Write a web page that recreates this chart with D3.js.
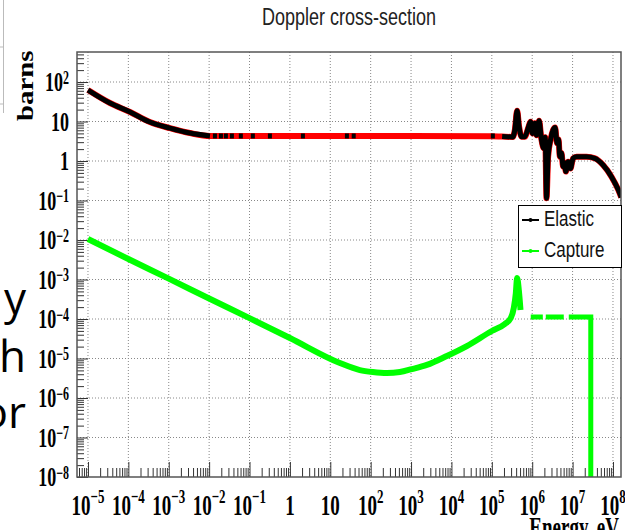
<!DOCTYPE html>
<html>
<head>
<meta charset="utf-8">
<script src="https://cdn.jsdelivr.net/npm/d3@7"></script>
<style>
body{margin:0;background:#fff;}
</style>
</head>
<body>
<svg id="here"></svg>
<script>
// elastic cross-section (barns)
const elasticE = [1e-5, 3.5e-5, 1.1e-4, 3.4e-4, 1.07e-3, 3.35e-3, 1.05e-2, 3e-2, 1, 1e3, 1e5, 1.8e5,
  3.31e5, 3.71e5, 4.23e5, 4.74e5, 5.43e5, 6.56e5, 7.92e5, 9.08e5, 1.02e6, 1.16e6, 1.28e6, 1.48e6,
  1.7e6, 1.94e6, 2.1e6, 2.26e6, 2.48e6, 2.84e6, 3.29e6, 3.69e6, 4.13e6, 4.5e6, 4.82e6, 5.3e6,
  5.82e6, 6.3e6, 6.79e6, 7.74e6, 8.87e6, 1.03e7, 1.25e7, 2.21e7, 3.55e7, 5.69e7, 9.18e7, 1.47e8, 1.6e8];
const elasticS = [62.7, 29.4, 17.4, 9.7, 6.8, 5.1, 4.3, 4.3, 4.3, 4.3, 4.25, 4.15,
  4.06, 6.1, 18.8, 7.4, 4.1, 4.1, 6.8, 9.9, 5.0, 9.0, 4.5, 10.5,
  3.4, 2.1, 4.0, 0.114, 1.29, 3.4, 6.1, 7.1, 2.8, 3.5, 1.29, 1.6,
  0.72, 0.9, 0.54, 0.96, 0.65, 1.17, 1.29, 1.29, 1.17, 0.79, 0.40, 0.152, 0.12];
// markers of the black graph visible on the flat part
const elasticMarkE = [1.39e-2, 1.96e-2, 2.6e-2, 3.66e-2, 6.1e-2, 0.121, 0.32, 2.1, 25.8, 38, 1.06e5];
const elasticMarkS = 4.3;

// capture cross-section
const captureE = [1e-5, 1e-4, 1e-3, 1e-2, 1e-1, 1, 17.3, 54, 113, 252, 528, 1047, 2460, 7690,
  2.4e4, 1e5, 2.1e5, 2.95e5, 3.5e5, 3.93e5, 4.23e5, 4.74e5, 5.13e5];
const captureS = [1.06e-2, 3.3e-3, 1.05e-3, 3.3e-4, 1.05e-4, 3.3e-5, 7.7e-6, 5.1e-6, 4.55e-6, 4.3e-6,
  4.55e-6, 5.4e-6, 6.9e-6, 1.16e-5, 2.07e-5, 4.97e-5, 7.46e-5, 1.06e-4, 1.9e-4, 4.5e-4, 1.09e-3, 4.5e-4, 1.69e-4];
// high energy capture part (null = gap in the line)
const captureHiE = [9.2e5, 1.83e6, null, 2.17e6, 6.05e6, null, 8.05e6, 2.82e7, 2.82e7];
const captureHiS = [1.12e-4, 1.12e-4, null, 1.12e-4, 1.12e-4, null, 1.12e-4, 1.12e-4, 1e-10];

const xTickExp = [-5, -4, -3, -2, -1, 0, 1, 2, 3, 4, 5, 6, 7, 8];
const yTickExp = [-8, -7, -6, -5, -4, -3, -2, -1, 0, 1, 2];
const legendNames = ["Elastic", "Capture"];
const legendColors = ["#000", "#00ff00"];

const width = 625, height = 530;
const margin = {top: 52, right: 4, bottom: 53, left: 77};

const svg = d3.select("#here")
  .attr("width", width)
  .attr("height", height);

const x = d3.scaleLog()
  .domain([5.35e-6, 1.58e8])
  .range([margin.left, width - margin.right]);
const y = d3.scaleLog()
  .domain([1e-8, 575])
  .range([height - margin.bottom, margin.top]);

// leftovers of the window behind the chart
svg.append("path")
  .attr("d", "M3.5,0V113M0,47H3.5M0,104H3.5")
  .attr("stroke", "#bbb").attr("fill", "none");
const bigWords = [["y", 314], ["h", 372], ["or", 428]];
svg.selectAll(".bg")
  .data(bigWords)
  .enter()
  .append("text")
  .attr("x", 26)
  .attr("y", d => d[1])
  .attr("text-anchor", "end")
  .style("font", "44px 'Open Sans'")
  .text(d => d[0]);

svg.append("clipPath").attr("id", "clip")
  .append("rect")
  .attr("x", margin.left).attr("y", margin.top)
  .attr("width", width - margin.left - margin.right)
  .attr("height", height - margin.top - margin.bottom);

// grid
const grid = svg.append("g")
  .attr("stroke", "#888")
  .attr("stroke-dasharray", "1,2")
  .attr("stroke-width", 1);
xTickExp.forEach(e => {
  grid.append("line")
    .attr("x1", x(Math.pow(10, e))).attr("x2", x(Math.pow(10, e)))
    .attr("y1", margin.top).attr("y2", height - margin.bottom);
});
yTickExp.slice(1).forEach(e => {
  grid.append("line")
    .attr("y1", y(Math.pow(10, e))).attr("y2", y(Math.pow(10, e)))
    .attr("x1", margin.left).attr("x2", width - margin.right);
});

// ticks
const ticks = svg.append("g").attr("stroke", "#333").attr("stroke-width", 1);
const [xmin, xmax] = x.domain();
const [ymin, ymax] = y.domain();
for (let e = -6; e <= 8; e++) {
  for (let m = 1; m < 10; m++) {
    const v = m * Math.pow(10, e);
    if (v < xmin || v > xmax) continue;
    const len = m === 1 ? 15 : 9;
    ticks.append("line")
      .attr("x1", x(v) + 0.5).attr("x2", x(v) + 0.5)
      .attr("y1", height - margin.bottom).attr("y2", height - margin.bottom - len);
  }
}
for (let e = -8; e <= 2; e++) {
  for (let m = 1; m < 10; m++) {
    const v = m * Math.pow(10, e);
    if (v < ymin || v > ymax) continue;
    const len = m === 1 ? 11 : 7;
    ticks.append("line")
      .attr("y1", y(v) + 0.5).attr("y2", y(v) + 0.5)
      .attr("x1", margin.left).attr("x2", margin.left + len);
  }
}

// tick labels
const expText = e => (e < 0 ? "\u2212" + (-e) : "" + e);
xTickExp.forEach(e => {
  const t = svg.append("text")
    .attr("transform", `translate(${x(Math.pow(10, e))},515) scale(1,1.5)`)
    .attr("text-anchor", "middle")
    .style("font", "bold 19px 'Liberation Serif'");
  if (e === 0) t.text("1");
  else if (e === 1) t.text("10");
  else {
    t.append("tspan").text("10");
    t.append("tspan").attr("dy", -8).style("font-size", "13px").text(expText(e));
  }
});
yTickExp.forEach(e => {
  const t = svg.append("text")
    .attr("transform", `translate(69,${y(Math.pow(10, e)) + 9}) scale(1,1.5)`)
    .attr("text-anchor", "end")
    .style("font", "bold 18px 'Liberation Serif'");
  if (e === 0) t.text("1");
  else if (e === 1) t.text("10");
  else {
    t.append("tspan").text("10");
    t.append("tspan").attr("dy", -5).style("font-size", "12px").text(expText(e));
  }
});

// titles
svg.append("text")
  .attr("transform", "translate(349,25) scale(1,1.37)")
  .attr("text-anchor", "middle")
  .attr("fill", "#222")
  .style("font", "18px 'Liberation Sans'")
  .text("Doppler cross-section");
svg.append("text")
  .attr("transform", "translate(33,121) rotate(-90) scale(1.2,1)")
  .style("font", "bold 24px 'Liberation Serif'")
  .text("barns");
svg.append("text")
  .attr("transform", "translate(619,537) scale(1,1.5)")
  .attr("text-anchor", "end")
  .style("font", "bold 19px 'Liberation Serif'")
  .text("Energy, eV");

// curves
const plot = svg.append("g").attr("clip-path", "url(#clip)");
const elastic = elasticE.map((e, i) => [e, elasticS[i]]);
const capture = captureE.map((e, i) => [e, captureS[i]]);
const captureHi = captureHiE.map((e, i) => [e, captureHiS[i]]);

const line = d3.line()
  .defined(d => d[0] != null)
  .x(d => x(d[0]))
  .y(d => y(d[1]));
const smooth = d3.line()
  .x(d => x(d[0]))
  .y(d => y(d[1]))
  .curve(d3.curveMonotoneX);

plot.append("path")
  .attr("fill", "none").attr("stroke", "#ff0000").attr("stroke-width", 6)
  .attr("d", smooth(elastic));
plot.append("path")
  .attr("fill", "none").attr("stroke", "#000").attr("stroke-width", 5)
  .attr("stroke-linejoin", "round")
  .attr("d", smooth.defined(d => d[0] <= 1.05e-2 || d[0] >= 1.8e5)(elastic));
plot.selectAll(".mk")
  .data(elasticMarkE)
  .enter()
  .append("rect")
  .attr("x", d => x(d) - 2).attr("y", y(elasticMarkS) - 2.5)
  .attr("width", 4).attr("height", 5)
  .attr("fill", "#000");

smooth.defined(() => true);
plot.append("path")
  .attr("fill", "none").attr("stroke", "#00ff00").attr("stroke-width", 6)
  .attr("d", smooth(capture));
plot.append("path")
  .attr("fill", "none").attr("stroke", "#00ff00").attr("stroke-width", 5)
  .attr("stroke-linejoin", "miter")
  .attr("d", line(captureHi));

// frame
svg.append("rect")
  .attr("x", margin.left).attr("y", margin.top)
  .attr("width", width - margin.left - margin.right)
  .attr("height", height - margin.top - margin.bottom)
  .attr("fill", "none").attr("stroke", "#555").attr("stroke-width", 1.5);

// legend
const lg = svg.append("g");
lg.append("rect")
  .attr("x", 518.5).attr("y", 205.5).attr("width", 103).attr("height", 62)
  .attr("fill", "#fff").attr("stroke", "#000");
legendNames.forEach((n, i) => {
  const ly = 220 + i * 31;
  lg.append("line")
    .attr("x1", 522).attr("x2", 539).attr("y1", ly).attr("y2", ly)
    .attr("stroke", legendColors[i]).attr("stroke-width", 2);
  lg.append("circle")
    .attr("cx", 530.5).attr("cy", ly).attr("r", 2)
    .attr("fill", legendColors[i]);
  lg.append("text")
    .attr("transform", `translate(544,${ly + 6}) scale(1,1.3)`)
    .attr("fill", "#111")
    .style("font", "17px 'Liberation Sans'")
    .text(n);
});
</script>
</body>
</html>
